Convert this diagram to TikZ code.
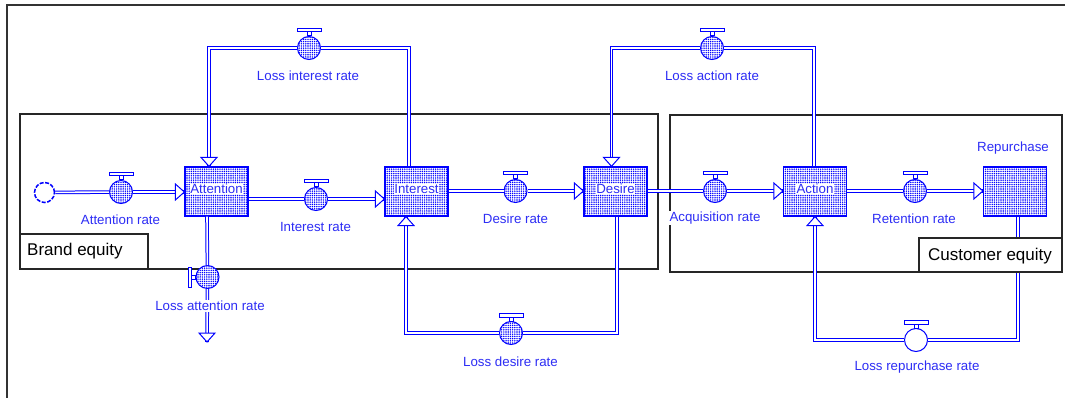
\documentclass[tikz,border=0pt]{standalone}
\usepackage{fontspec}
\setmainfont{Liberation Sans}
\usetikzlibrary{patterns.meta}
\definecolor{flowblue}{RGB}{0,0,255}
\definecolor{textblue}{RGB}{45,45,245}
\tikzset{
  pipe/.style={draw=flowblue, line width=1pt, double=white, double distance=1.6pt},
  dotfill/.style={pattern={Dots[distance=2.2pt,radius=0.8pt]}, pattern color=flowblue},
  stock/.style={rectangle, draw=flowblue, line width=1.3pt, minimum width=63pt,
    minimum height=49pt, inner sep=0pt, dotfill},
  valve/.style={circle, draw=flowblue, line width=1pt, minimum size=23pt,
    inner sep=0pt, preaction={fill=white}, dotfill},
  emptyvalve/.style={circle, draw=flowblue, line width=1pt, minimum size=23pt,
    inner sep=0pt, fill=white},
  handle/.style={draw=flowblue, line width=1pt, fill=white},
  rate/.style={text=textblue, fill=white, inner sep=1pt, font=\fontsize{13.3}{15}\selectfont},
  stocktext/.style={rate, inner sep=0.5pt},
  sector/.style={draw=black!85, line width=1.2pt},
  sectortext/.style={inner sep=0pt, font=\fontsize{17}{20}\selectfont},
  source/.style={circle, draw=flowblue, line width=1.5pt, minimum size=20pt,
    dash pattern=on 4pt off 1.5pt},
  flowhead/.pic={\draw[flowblue, line width=1pt, fill=white] (0,0) -- (-9,-8) -- (-9,8) -- cycle;}
}
% handle of a valve, on top or on the left
\newcommand{\valvetop}[1]{%
  \draw[handle] ([xshift=-2pt]#1.north) rectangle ([xshift=2pt,yshift=4pt]#1.north);
  \draw[handle] ([xshift=-12pt,yshift=4pt]#1.north) rectangle ([xshift=12pt,yshift=7.5pt]#1.north);}
\newcommand{\valveleft}[1]{%
  \draw[handle] ([yshift=-2pt]#1.west) rectangle ([xshift=-4pt,yshift=2pt]#1.west);
  \draw[handle] ([xshift=-4pt,yshift=-10pt]#1.west) rectangle ([xshift=-7.5pt,yshift=10pt]#1.west);}

\begin{document}
\begin{tikzpicture}[x=1pt,y=-1pt]
  \useasboundingbox (0,0) rectangle (1065,398);
  \draw[black!80, line width=1.2pt] (7,398) -- (7,5) -- (1065,5);
  % sectors
  \draw[sector] (20,114) rectangle (658,269);
  \draw[sector] (670,115) rectangle (1062,272);

  % stocks
  \node[stock] (attention) at (216.5,191.5) {};
  \node[stock] (interest) at (416.5,191.5) {};
  \node[stock] (desire) at (615.5,191.5) {};
  \node[stock] (action) at (815,191.5) {};
  \node[stock] (repurchase) at (1015,191.5) {};
  \node[source] (cloud) at (44.5,192.5) {};

  % valves
  \node[valve] (attrate) at (121,192) {};
  \node[valve] (intrate) at (316,199) {};
  \node[valve] (desrate) at (515.5,191) {};
  \node[valve] (acqrate) at (715,191) {};
  \node[valve] (retrate) at (915,191) {};
  \node[valve] (lossint) at (309,48) {};
  \node[valve] (lossact) at (712,48) {};
  \node[valve] (lossdes) at (511,333) {};
  \node[valve] (lossatt) at (207.5,277) {};
  \node[emptyvalve] (lossrep) at (916,340) {};
  \coordinate (sink) at (207,342);

  % main chain
  \draw[pipe] (cloud) -- (attrate);
  \draw[pipe] (attrate) -- (attention.west |- attrate);
  \pic at (attention.west |- attrate) {flowhead};
  \draw[pipe] (attention.east |- intrate) -- (intrate);
  \draw[pipe] (intrate) -- (interest.west |- intrate);
  \pic at (interest.west |- intrate) {flowhead};
  \draw[pipe] (interest.east |- desrate) -- (desrate);
  \draw[pipe] (desrate) -- (desire.west |- desrate);
  \pic at (desire.west |- desrate) {flowhead};
  \draw[pipe] (desire.east |- acqrate) -- (acqrate);
  \draw[pipe] (acqrate) -- (action.west |- acqrate);
  \pic at (action.west |- acqrate) {flowhead};
  \draw[pipe] (action.east |- retrate) -- (retrate);
  \draw[pipe] (retrate) -- (repurchase.west |- retrate);
  \pic at (repurchase.west |- retrate) {flowhead};

  % loss loops
  \draw[pipe] ([xshift=-7.5pt]interest.north) |- (lossint);
  \draw[pipe] (lossint) -| ([xshift=-7.5pt]attention.north);
  \pic[rotate=-90] at ([xshift=-7.5pt]attention.north) {flowhead};
  \draw[pipe] ([xshift=-1pt]action.north) |- (lossact);
  \draw[pipe] (lossact) -| ([xshift=-4pt]desire.north);
  \pic[rotate=-90] at ([xshift=-4pt]desire.north) {flowhead};
  \draw[pipe] ([xshift=1.5pt]desire.south) |- (lossdes);
  \draw[pipe] (lossdes) -| ([xshift=-10.5pt]interest.south);
  \pic[rotate=90] at ([xshift=-10.5pt]interest.south) {flowhead};
  \draw[pipe] ([xshift=3pt]repurchase.south) |- (lossrep);
  \draw[pipe] (lossrep) -| (action.south);
  \pic[rotate=90] at (action.south) {flowhead};
  \draw[pipe] ([xshift=-9.5pt]attention.south) -- (lossatt);
  \draw[pipe] (lossatt) -- (sink);
  \pic[rotate=-90] at (sink) {flowhead};

  % handles
  \valvetop{attrate} \valvetop{intrate} \valvetop{desrate}
  \valvetop{acqrate} \valvetop{retrate} \valvetop{lossint}
  \valvetop{lossact} \valvetop{lossdes} \valvetop{lossrep}
  \valveleft{lossatt}

  % texts
  \node[stocktext] (attention-t) at (216.5,189) {Attention};
  \node[stocktext] (interest-t) at (416.5,189) {Interest};
  \node[stocktext] (desire-t) at (615.5,189) {Desire};
  \node[stocktext] (action-t) at (815,189) {Action};
  \node[rate, fill=none] (repurchase-t) at (1013,148) {Repurchase};
  \node[rate] (attrate-t) at (120.5,220) {Attention rate};
  \node[rate] (intrate-t) at (315.5,227) {Interest rate};
  \node[rate] (desrate-t) at (515.5,219) {Desire rate};
  \node[rate] (acqrate-t) at (715,218) {Acquisition rate};
  \node[rate] (retrate-t) at (914,219) {Retention rate};
  \node[rate] (lossint-t) at (308,76) {Loss interest rate};
  \node[rate] (lossact-t) at (712,76) {Loss action rate};
  \node[rate] (lossatt-t) at (210,306) {Loss attention rate};
  \node[rate] (lossdes-t) at (510.5,362) {Loss desire rate};
  \node[rate] (lossrep-t) at (917,367) {Loss repurchase rate};

  % sector labels
  \draw[sector, fill=white] (20,234) rectangle (148,269);
  \node[sectortext, anchor=west] (brand-t) at (27,251) {Brand equity};
  \draw[sector, fill=white] (919,238) rectangle (1062,272);
  \node[sectortext] (customer-t) at (990,256) {Customer equity};
\end{tikzpicture}
\end{document}
